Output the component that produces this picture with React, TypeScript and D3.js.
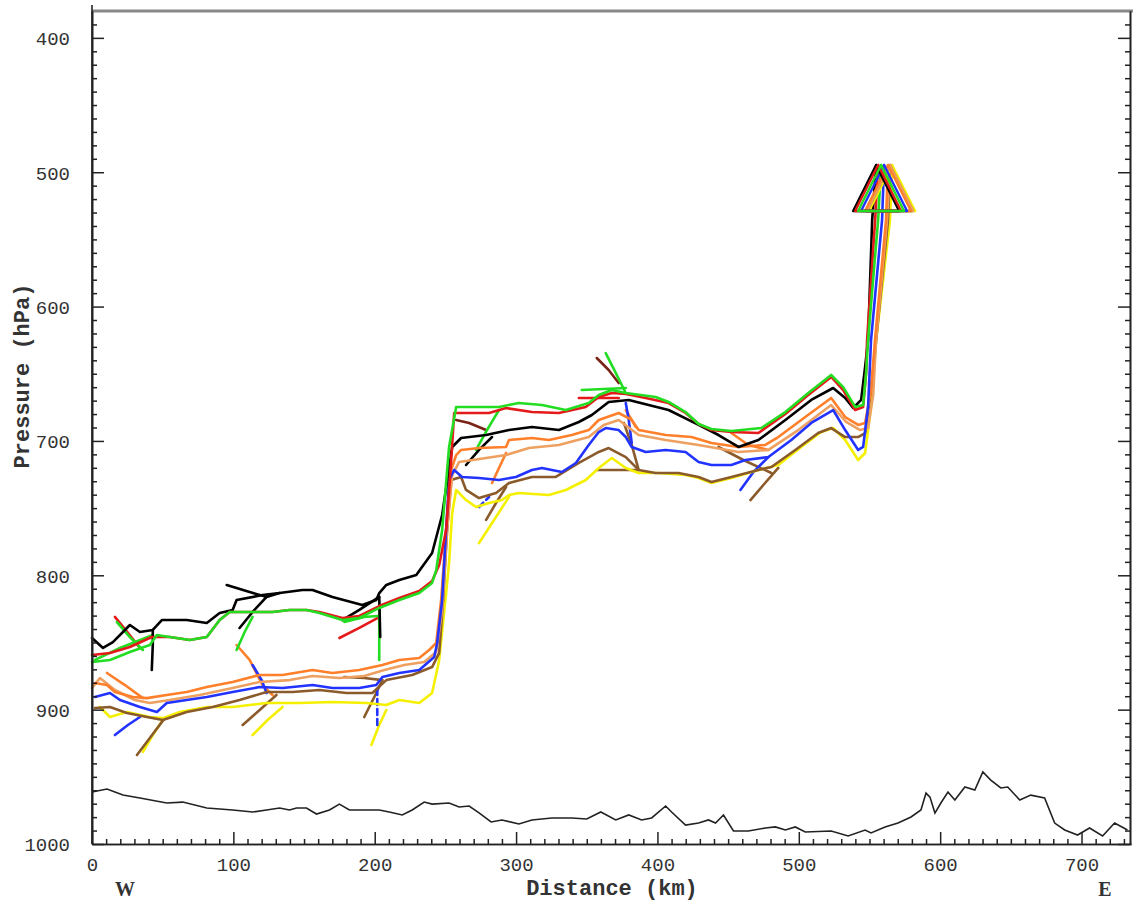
import React, { useEffect, useRef } from 'react';
import * as d3 from 'd3';

// trajectories: [distance km, pressure hPa]
const blackMain = [[0,846.7],[7.8,854.1],[14.8,849.7],[26.8,837.0],[33.9,842.2],[43.0,840.7],[49.4,833.3],[67.0,833.3],[81.2,835.5],[90.3,828.1],[99.5,825.8],[102.3,818.4],[120.7,814.7],[132.7,813.2],[148.9,810.9],[156.0,810.9],[170.1,816.1],[191.2,822.1],[201.1,818.4],[203.2,813.2],[208.2,807.2],[217.4,803.5],[229.4,799.8],[240.6,783.4],[247.7,755.1],[254.8,704.5],[261.1,697.8],[278.8,695.6],[295.0,691.9],[311.2,689.6],[330.3,691.9],[344.4,685.9],[353.6,680.7],[365.5,671.0],[379.7,669.5],[393.8,673.3],[407.9,677.0],[429.1,688.1],[443.2,695.6],[457.3,704.5],[471.4,699.3],[490.5,684.4],[508.8,669.5],[524.3,660.6],[532.8,668.0],[538.5,675.5],[544.1,669.5],[546.9,645.0],[549.0,624.9],[551.9,535.6],[554.7,494.6]];
const redMain = [[0,859.3],[12.7,857.8],[26.8,853.4],[42.3,845.9],[55.0,845.9],[69.2,848.2],[81.2,845.9],[90.3,833.3],[97.4,827.3],[127.7,827.3],[139.7,825.8],[151.7,825.8],[160.9,827.3],[177.1,831.8],[189.1,830.3],[203.2,822.9],[217.4,816.9],[231.5,811.7],[240.6,804.3],[245.6,792.3],[250.5,766.3],[254.1,714.2],[256.2,679.2],[280.9,679.2],[292.9,675.5],[311.2,678.5],[330.3,679.2],[349.3,674.7],[358.5,667.3],[367.7,664.3],[377.6,665.1],[391.7,668.0],[407.9,671.8],[419.9,679.2],[429.1,687.4],[438.2,691.9],[452.3,693.4],[471.4,694.1],[490.5,679.9],[506.7,665.8],[522.9,652.4],[531.4,662.1],[539.9,677.0],[545.5,674.7],[547.6,649.4],[548.3,624.9],[554.0,535.6],[556.1,494.6]];
const greenMain = [[0,864.5],[12.7,863.0],[26.8,857.1],[40.9,851.9],[45.9,844.4],[55.0,845.9],[69.2,848.2],[81.2,845.9],[90.3,833.3],[97.4,827.3],[127.7,827.3],[139.7,825.8],[151.7,825.8],[160.9,828.1],[177.1,833.3],[189.1,831.8],[203.2,824.3],[217.4,818.4],[231.5,813.2],[240.6,805.7],[243.5,796.1],[247.7,766.3],[252.6,704.5],[257.6,674.7],[287.9,674.7],[302.0,671.8],[318.3,673.3],[335.2,677.0],[351.4,671.8],[358.5,665.8],[367.7,662.1],[377.6,664.3],[398.7,667.3],[407.9,671.0],[419.9,678.5],[429.1,687.4],[438.2,691.1],[452.3,692.6],[473.5,690.4],[490.5,678.5],[506.7,664.3],[522.9,650.9],[531.4,659.9],[539.9,674.7],[545.5,673.3],[547.6,649.4],[549.0,624.9],[556.1,535.6],[558.2,494.6]];
const orangeMain = [[2.1,880.2],[10.6,881.7],[16.2,886.9],[28.9,890.6],[38.8,891.4],[52.9,889.1],[67.0,886.9],[81.2,883.2],[99.5,879.4],[118.6,874.2],[134.8,874.2],[156.0,870.5],[170.1,872.7],[189.1,870.5],[205.4,866.8],[217.4,863.0],[231.5,861.6],[238.5,855.6],[243.5,850.4],[247.0,818.4],[250.5,766.3],[254.1,721.6],[257.6,710.5],[261.1,706.7],[273.8,705.3],[292.9,704.5],[295.0,699.3],[311.2,697.8],[323.2,699.3],[339.4,695.6],[351.4,691.9],[358.5,684.4],[372.6,679.2],[381.8,684.4],[386.7,691.9],[405.8,695.6],[424.1,697.1],[438.2,701.5],[457.3,704.5],[476.3,703.0],[485.5,697.1],[504.6,682.2],[522.9,668.0],[532.8,682.2],[542.0,688.1],[546.9,686.6],[551.1,662.1],[553.9,624.9],[561.7,535.6],[563.1,494.6]];
const tanMain = [[0,883.9],[5.6,876.5],[16.2,885.4],[30.3,892.8],[40.9,895.1],[55.0,892.8],[76.2,889.1],[99.5,883.9],[118.6,879.4],[139.7,878.0],[156.0,875.0],[175.0,876.5],[192.6,875.0],[206.8,870.5],[220.9,866.8],[235.0,864.5],[243.5,857.1],[247.7,825.8],[251.2,766.3],[254.8,725.4],[259.7,715.7],[278.8,712.7],[292.9,710.5],[309.1,705.3],[330.3,703.0],[351.4,697.1],[362.0,688.1],[372.6,684.4],[386.7,695.6],[405.8,699.3],[429.1,703.0],[457.3,708.2],[478.5,706.7],[499.6,691.9],[522.9,673.3],[533.5,685.9],[543.4,691.9],[549.0,690.4],[552.6,665.8],[554.7,624.9],[562.4,535.6],[564.5,494.6]];
const blueMain = [[2.1,890.6],[12.7,887.6],[19.8,892.8],[33.9,898.0],[45.9,901.8],[52.9,895.1],[67.0,892.8],[81.2,890.6],[99.5,886.9],[118.6,883.2],[134.8,883.9],[156.0,881.7],[170.1,883.9],[189.1,883.9],[201.1,881.7],[205.4,875.7],[217.4,872.7],[231.5,870.5],[242.1,860.8],[244.2,850.4],[247.7,818.4],[250.5,766.3],[252.6,729.1],[256.2,721.6],[261.8,726.8],[273.8,727.6],[287.9,729.1],[299.9,726.8],[311.2,721.6],[318.3,720.1],[332.4,723.1],[342.3,716.4],[351.4,703.0],[358.5,693.4],[363.4,690.4],[372.6,691.9],[377.6,697.1],[381.8,704.5],[391.7,708.2],[405.8,706.7],[419.9,708.2],[429.1,715.7],[438.2,717.9],[452.3,717.9],[462.2,714.2],[478.5,712.0],[494.7,699.3],[508.8,686.6],[524.3,677.0],[532.8,691.9],[542.0,706.7],[545.5,704.5],[549.0,674.7],[551.1,624.9],[558.9,535.6],[560.3,494.6]];
const brownMain = [[2.1,898.8],[12.7,898.0],[24.7,902.5],[38.8,905.5],[50.1,907.7],[67.0,901.8],[85.4,898.0],[104.4,892.8],[123.5,886.9],[141.8,886.9],[160.9,885.4],[180.0,887.6],[198.3,887.6],[208.2,878.0],[226.5,874.2],[240.6,868.3],[245.6,857.8],[248.4,818.4],[251.2,766.3],[254.1,729.1],[261.1,726.8],[264.6,736.5],[273.8,742.5],[285.8,738.8],[295.0,731.3],[311.2,726.8],[328.1,726.8],[344.4,716.4],[358.5,708.2],[365.5,705.3],[377.6,712.0],[386.7,721.6],[398.7,723.9],[414.9,723.9],[429.1,726.8],[438.2,730.6],[452.3,726.8],[471.4,721.6],[480.6,719.4],[497.5,706.7],[513.7,694.1],[522.9,690.4],[532.8,697.1],[542.0,697.1],[546.9,694.1],[551.1,662.1],[554.7,624.9],[563.1,535.6],[564.5,494.6]];
const yellowMain = [[5.6,898.0],[12.7,905.5],[24.7,901.8],[40.9,905.5],[50.1,906.3],[62.1,901.8],[81.2,898.0],[99.5,898.0],[123.5,895.1],[146.8,895.1],[170.1,894.3],[194.1,895.1],[208.2,896.5],[217.4,892.8],[231.5,895.1],[240.6,887.6],[245.6,863.0],[250.5,813.2],[252.6,790.8],[254.8,753.6],[257.6,736.5],[264.6,744.0],[271.7,749.2],[280.9,746.2],[290.0,744.0],[295.0,740.2],[302.0,738.8],[323.2,740.2],[335.2,736.5],[349.3,729.1],[358.5,720.1],[367.7,712.7],[377.6,720.1],[386.7,723.9],[400.8,723.9],[419.9,725.4],[429.1,727.6],[438.2,731.3],[452.3,727.6],[471.4,721.6],[485.5,717.9],[501.7,704.5],[515.9,693.4],[524.3,690.4],[532.8,699.3],[542.0,714.2],[546.9,709.0],[551.1,674.7],[554.7,624.9],[564.5,535.6],[566.0,494.6]];

// short trajectory pieces that join the main bundles
const blackShort = [
  [[95.3,807.2],[111.5,812.4],[123.5,816.1],[132.7,813.2]],
  [[104.4,839.2],[113.6,827.3],[123.5,816.1]],
  [[42.3,870.5],[43.0,851.9],[43.0,840.7]],
  [[177.1,833.3],[189.1,825.8],[203.2,816.1]],
  [[203.9,845.9],[203.2,816.1]],
  [[264.6,717.9],[273.8,706.7],[283.0,697.1]],
];
const greenShort = [
  [[203.2,863.0],[203.2,823.6]],
  [[178.5,834.8],[192.6,831.1],[201.8,830.3]],
  [[17.6,834.8],[26.8,846.0],[36.0,855.6]],
  [[2.1,863.0],[19.8,854.1],[43.0,844.4]],
  [[102.3,855.6],[108.0,842.2],[113.6,831.0]],
  [[271.7,706.7],[279.4,691.9],[287.9,677.0]],
  [[363.4,634.6],[370.5,649.4],[377.6,664.3]],
  [[346.5,662.1],[362.0,661.4],[377.6,660.6]],
];
const redShort = [
  [[175.0,846.7],[189.1,839.2],[203.2,831.1]],
  [[16.2,831.0],[25.4,842.9],[33.9,854.1]],
  [[344.4,668.0],[358.5,668.0],[372.6,668.0]],
];
const maroonShort = [
  [[257.6,684.4],[266.8,686.6],[278.8,691.9]],
  [[357.1,638.3],[365.5,647.2],[372.6,656.9]],
];
const orangeShort = [
  [[102.3,851.9],[111.5,863.0],[120.7,881.7],[127.7,889.1]],
  [[10.6,872.7],[23.3,881.7],[36.0,891.4]],
  [[283.0,731.3],[287.9,720.1],[292.9,709.0]],
  [[377.6,677.0],[381.8,684.4],[384.6,689.6]],
  [[452.3,694.1],[464.3,703.0],[478.5,706.7]],
];
const blueShort = [
  [[113.6,866.8],[120.0,878.0],[123.5,887.6]],
  [[16.2,918.9],[25.4,911.4],[33.9,905.5]],
  [[377.6,671.8],[379.7,684.4],[381.8,701.5]],
  [[458.7,736.5],[467.9,723.1],[478.5,712.0]],
];
const blueDashed = [
  [[201.8,911.4],[201.8,883.2]],
  [[273.8,749.2],[277.3,745.4],[280.9,741.7]],
];
const brownShort = [
  [[31.8,933.8],[40.9,921.1],[51.5,906.3]],
  [[106.6,911.4],[118.6,900.3],[130.5,889.1]],
  [[192.6,905.5],[199.7,890.6],[205.4,878.0]],
  [[178.5,875.7],[192.6,876.5],[205.4,878.0]],
  [[278.8,758.8],[285.8,746.2],[292.9,734.3]],
  [[357.1,721.6],[372.6,721.6],[386.7,721.6]],
  [[376.2,686.6],[381.8,703.0],[386.7,721.6]],
  [[465.8,744.0],[474.9,732.8],[485.5,720.1]],
  [[443.2,704.5],[460.8,714.2],[480.6,723.9]],
];
const yellowShort = [
  [[36.0,931.5],[43.0,918.9],[50.1,907.7]],
  [[113.6,918.9],[124.2,907.7],[134.8,898.0]],
  [[197.6,926.3],[203.2,911.4],[208.2,900.3]],
  [[273.8,776.0],[284.4,758.8],[295.0,741.7]],
];

// terrain along the section
const terrain = [[0,961.3],[10.6,959.1],[21.9,963.6],[33.9,965.8],[52.9,969.5],[64.2,968.8],[81.2,973.2],[99.5,974.7],[113.6,976.2],[123.5,974.7],[132.7,973.2],[139.7,974.7],[144.7,973.2],[151.7,973.2],[158.8,977.7],[168.0,974.7],[175.0,970.3],[182.1,974.7],[194.1,974.7],[203.2,974.7],[210.3,976.2],[219.5,978.4],[226.5,974.7],[235.0,968.8],[240.6,970.3],[252.6,969.5],[259.7,972.5],[266.8,971.7],[273.8,976.9],[282.3,983.6],[290.0,982.1],[302.0,985.1],[311.2,982.1],[325.3,980.6],[339.4,980.6],[350.0,981.4],[359.9,976.2],[370.5,982.1],[379.7,978.4],[388.8,982.1],[395.9,980.6],[405.8,971.7],[410.0,976.2],[419.9,985.9],[429.1,984.4],[436.1,982.1],[441.1,984.4],[446.7,978.4],[453.8,990.3],[464.3,990.3],[476.3,988.1],[483.4,987.3],[490.5,989.6],[497.5,987.3],[504.6,991.1],[522.9,990.3],[534.9,994.0],[546.9,989.6],[551.1,991.8],[561.0,987.3],[570.2,984.4],[579.4,979.9],[586.4,974.7],[590.0,962.1],[592.8,965.1],[596.3,977.0],[600.5,969.5],[605.5,961.3],[610.4,967.3],[617.5,957.6],[624.5,959.8],[630.2,946.4],[635.8,952.4],[642.9,958.3],[647.8,957.6],[656.3,967.3],[664.1,963.6],[673.9,965.8],[681.0,984.4],[688.1,989.6],[697.2,993.3],[705.7,988.1],[714.9,994.0],[723.4,984.4],[732.5,989.6]];

const pressureTicks = [400, 500, 600, 700, 800, 900, 1000];
const distanceTicks = [0, 100, 200, 300, 400, 500, 600, 700];

const C = {
  black: '#000000', red: '#e41a1a', green: '#22dd22', orange: '#ff7f2a', tan: '#eea060',
  blue: '#2233ff', brown: '#8b5a2b', yellow: '#f4f000', maroon: '#7a2418',
};

export default function App() {
  const ref = useRef<SVGSVGElement>(null);

  useEffect(() => {
    const svg = d3.select(ref.current);
    svg.selectAll('*').remove();
    const W = 1133, H = 904;
    const x = d3.scaleLinear().domain([0, 735]).range([92, 1131]);
    const y = d3.scaleLinear().domain([380, 1000]).range([11, 844]);
    const line = d3.line<number[]>().x(d => x(d[0])).y(d => y(d[1]));
    const mono = 'Liberation Mono, Courier New, monospace';

    svg.append('rect').attr('width', W).attr('height', H).attr('fill', '#fff');

    // terrain
    svg.append('path').datum(terrain).attr('d', line).attr('fill', 'none')
      .attr('stroke', '#222').attr('stroke-width', 1.6);

    const g = svg.append('g').attr('fill', 'none').attr('stroke-linejoin', 'round').attr('stroke-linecap', 'round');
    const draw = (data: number[][], color: string, w = 2.6, dash?: string) => {
      const p = g.append('path').datum(data).attr('d', line).attr('stroke', color).attr('stroke-width', w);
      if (dash) p.attr('stroke-dasharray', dash);
    };

    yellowShort.forEach(s => draw(s, C.yellow));
    brownShort.forEach(s => draw(s, C.brown));
    orangeShort.forEach(s => draw(s, C.orange));
    blueShort.forEach(s => draw(s, C.blue));
    blueDashed.forEach(s => draw(s, C.blue, 2.6, '6,4'));
    redShort.forEach(s => draw(s, C.red));
    maroonShort.forEach(s => draw(s, C.maroon));
    greenShort.forEach(s => draw(s, C.green));
    blackShort.forEach(s => draw(s, C.black));

    const mains: [number[][], string][] = [
      [yellowMain, C.yellow], [brownMain, C.brown], [tanMain, C.tan], [orangeMain, C.orange],
      [blueMain, C.blue], [blackMain, C.black], [redMain, C.red], [greenMain, C.green],
    ];
    mains.forEach(([d, c]) => draw(d, c));

    // arrow heads at trajectory ends
    mains.forEach(([d, c]) => {
      const e = d[d.length - 1];
      const ax = x(e[0]), ay = y(e[1]);
      g.append('path')
        .attr('d', `M${ax},${ay}L${ax - 23},${ay + 46}L${ax + 23},${ay + 46}Z`)
        .attr('stroke', c).attr('stroke-width', 2.4);
    });

    // frame
    svg.append('line').attr('x1', 92).attr('x2', W).attr('y1', 11).attr('y2', 11)
      .attr('stroke', '#888').attr('stroke-width', 3);
    svg.append('line').attr('x1', 92).attr('x2', 92).attr('y1', 5).attr('y2', 844)
      .attr('stroke', '#222').attr('stroke-width', 1.6);

    const style = (sel: d3.Selection<SVGGElement, unknown, null, undefined>) => {
      sel.select('.domain').attr('stroke', '#222').attr('stroke-width', 1.6);
      sel.selectAll('.tick line').attr('stroke', '#222').attr('stroke-width', 1.5);
      sel.selectAll('.tick text').attr('fill', '#333').attr('font-family', mono).attr('font-size', 19);
    };

    const minorP = d3.range(390, 1000, 10).filter(v => v % 100 !== 0);
    const minorD = d3.range(10, 735, 10).filter(v => v % 100 !== 0);

    const left = svg.append('g').attr('transform', 'translate(92,0)')
      .call(d3.axisLeft(y).tickValues(pressureTicks).tickSize(-12).tickSizeOuter(0).tickPadding(22).tickFormat(d3.format('d')));
    style(left);
    left.selectAll('.tick text').attr('dy', '0.36em');
    const leftMinor = svg.append('g').attr('transform', 'translate(92,0)')
      .call(d3.axisLeft(y).tickValues(minorP).tickSize(-5).tickSizeOuter(0).tickFormat(() => ''));
    style(leftMinor);

    const right = svg.append('g').attr('transform', 'translate(1130,0)')
      .call(d3.axisRight(y).tickValues(pressureTicks).tickSize(-12).tickSizeOuter(0).tickFormat(() => ''));
    style(right);
    const rightMinor = svg.append('g').attr('transform', 'translate(1130,0)')
      .call(d3.axisRight(y).tickValues(minorP).tickSize(-5).tickSizeOuter(0).tickFormat(() => ''));
    style(rightMinor);

    const bottom = svg.append('g').attr('transform', 'translate(0,844)')
      .call(d3.axisBottom(x).tickValues(distanceTicks).tickSize(-12).tickSizeOuter(0).tickPadding(14).tickFormat(d3.format('d')));
    style(bottom);
    const bottomMinor = svg.append('g').attr('transform', 'translate(0,844)')
      .call(d3.axisBottom(x).tickValues(minorD).tickSize(-5).tickSizeOuter(0).tickFormat(() => ''));
    style(bottomMinor);

    // titles
    svg.append('text').attr('x', 612).attr('y', 895).attr('text-anchor', 'middle')
      .attr('font-family', mono).attr('font-weight', 'bold').attr('font-size', 22).attr('fill', '#333')
      .text('Distance (km)');
    svg.append('text').attr('transform', 'translate(29,376) rotate(-90)').attr('text-anchor', 'middle')
      .attr('font-family', mono).attr('font-weight', 'bold').attr('font-size', 22).attr('fill', '#333')
      .text('Pressure (hPa)');
    const serif = 'Liberation Serif, Times New Roman, serif';
    svg.append('text').attr('x', 125).attr('y', 896).attr('text-anchor', 'middle')
      .attr('font-family', serif).attr('font-weight', 'bold').attr('font-size', 20).attr('fill', '#333').text('W');
    svg.append('text').attr('x', 1105).attr('y', 896).attr('text-anchor', 'middle')
      .attr('font-family', serif).attr('font-weight', 'bold').attr('font-size', 20).attr('fill', '#333').text('E');
  }, []);

  return (
    <svg ref={ref} width={1133} height={904}
      style={{ position: 'absolute', left: 0, top: 0, display: 'block' }} />
  );
}
